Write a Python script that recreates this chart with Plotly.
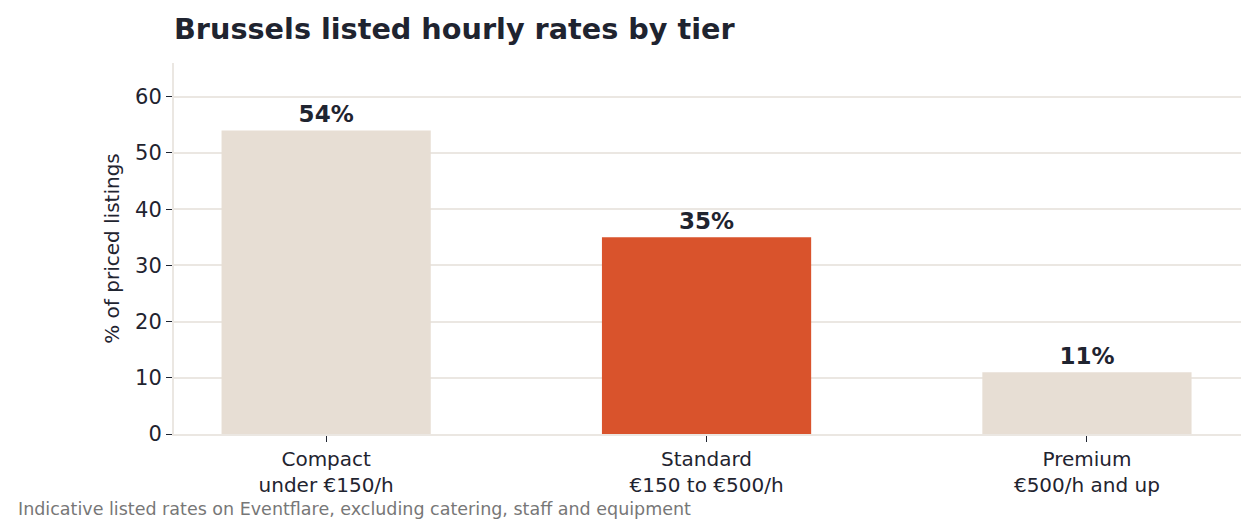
import plotly.graph_objects as go

categories = ["Compact<br>under €150/h", "Standard<br>€150 to €500/h", "Premium<br>€500/h and up"]
shares = [54, 35, 11]
bar_colors = ["#e7ded4", "#d9532c", "#e7ded4"]
y_ticks = [0, 10, 20, 30, 40, 50, 60]

DARK = "#1f2430"
GRID = "#ebe7e2"
FONT = "DejaVu Sans"

fig = go.Figure(
    go.Bar(
        x=list(range(len(categories))),
        y=shares,
        marker=dict(color=bar_colors, line=dict(width=0)),
        width=0.55,
        text=[f"<b>{v}%</b>" for v in shares],
        textposition="outside",
        textfont=dict(family=FONT, size=23, color=DARK),
        cliponaxis=False,
        hoverinfo="skip",
    )
)

W, H = 1256, 526
ml, mr, mt, mb = 174, 15, 63, 92
plot_w = W - ml - mr
plot_h = H - mt - mb

fig.update_layout(
    width=W,
    height=H,
    margin=dict(l=ml, r=mr, t=mt, b=mb, pad=0),
    paper_bgcolor="white",
    plot_bgcolor="white",
    font=dict(family=FONT, color=DARK),
    showlegend=False,
    bargap=0.45,
    title=dict(
        text="<b>Brussels listed hourly rates by tier</b>",
        font=dict(family=FONT, size=28.7, color=DARK),
        x=ml / W,
        xanchor="left",
        xref="container",
        y=1 - 29 / H,
        yanchor="middle",
        yref="container",
    ),
    xaxis=dict(
        range=[-0.4, 2.405],
        tickmode="array",
        tickvals=list(range(len(categories))),
        ticktext=categories,
        ticks="outside",
        ticklen=6,
        tickwidth=1.2,
        tickcolor=DARK,
        tickfont=dict(family=FONT, size=20, color=DARK),
        showline=True,
        linecolor=GRID,
        linewidth=2,
        showgrid=False,
        zeroline=False,
        fixedrange=True,
    ),
    yaxis=dict(
        range=[0, 66],
        tickmode="array",
        tickvals=y_ticks,
        ticks="outside",
        ticklen=6,
        tickwidth=1.2,
        tickcolor=DARK,
        tickfont=dict(family=FONT, size=21, color=DARK),
        showline=True,
        linecolor=GRID,
        linewidth=2,
        showgrid=True,
        gridcolor=GRID,
        gridwidth=1.5,
        zeroline=False,
        title=dict(
            text="% of priced listings",
            font=dict(family=FONT, size=20, color=DARK),
            standoff=10,
        ),
        fixedrange=True,
    ),
    annotations=[
        dict(
            text="Indicative listed rates on Eventflare, excluding catering, staff and equipment",
            xref="paper",
            yref="paper",
            x=(16 - ml) / plot_w,
            y=-(509 - (H - mb)) / plot_h,
            xanchor="left",
            yanchor="middle",
            showarrow=False,
            font=dict(family=FONT, size=17.5, color="#777777"),
        )
    ],
)

fig.write_html("out.html", config={"displayModeBar": False})
